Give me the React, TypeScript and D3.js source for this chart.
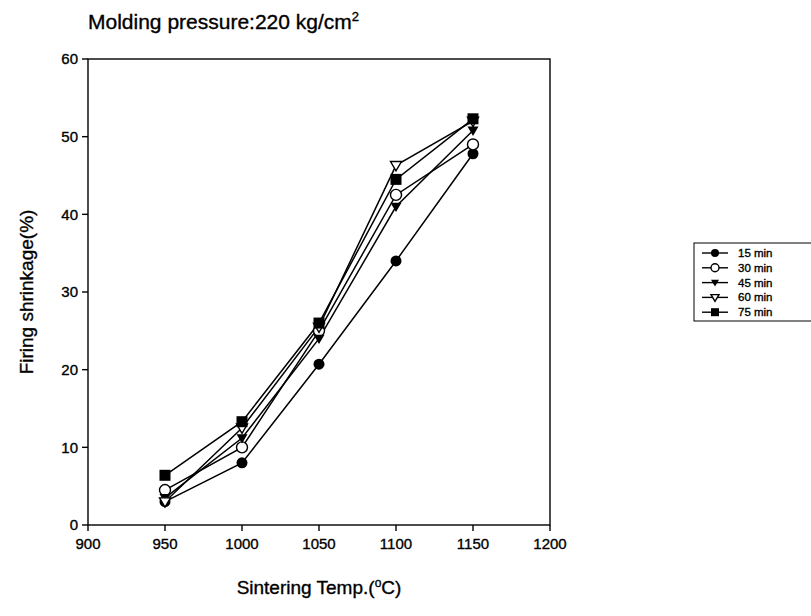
import React from "react";
import * as d3 from "d3";

const temps = [950, 1000, 1050, 1100, 1150];
const s15 = [3.0, 8.0, 20.7, 34.0, 47.8];
const s30 = [4.5, 10.0, 25.0, 42.5, 49.0];
const s45 = [3.5, 11.2, 24.0, 41.0, 50.8];
const s60 = [3.0, 12.5, 25.5, 46.3, 52.0];
const s75 = [6.4, 13.3, 26.0, 44.5, 52.3];
const seriesNames = ["15 min", "30 min", "45 min", "60 min", "75 min"];
const xTicks = [900, 950, 1000, 1050, 1100, 1150, 1200];
const yTicks = [0, 10, 20, 30, 40, 50, 60];

type Sym = "circle" | "circleOpen" | "tri" | "triOpen" | "square";
const symbols: Sym[] = ["circle", "circleOpen", "tri", "triOpen", "square"];
const allSeries = [s15, s30, s45, s60, s75];

const FONT = "'Liberation Sans', Arial, sans-serif";
const TS = { stroke: "#000", strokeWidth: 0.35 };

function Marker({ x, y, sym, r = 5.5 }: { x: number; y: number; sym: Sym; r?: number }) {
  switch (sym) {
    case "circle":
      return <circle cx={x} cy={y} r={r} fill="#000" />;
    case "circleOpen":
      return <circle cx={x} cy={y} r={r} fill="#fff" stroke="#000" strokeWidth={1.4} />;
    case "tri":
      return <path d={`M${x - r},${y - r * 0.7} L${x + r},${y - r * 0.7} L${x},${y + r * 1.0} Z`} fill="#000" />;
    case "triOpen":
      return (
        <path
          d={`M${x - r},${y - r * 0.7} L${x + r},${y - r * 0.7} L${x},${y + r * 1.0} Z`}
          fill="#fff"
          stroke="#000"
          strokeWidth={1.4}
        />
      );
    case "square":
      return <rect x={x - r} y={y - r} width={2 * r} height={2 * r} fill="#000" />;
  }
}

export default function App() {
  const W = 811;
  const H = 616;
  const x = d3.scaleLinear().domain([900, 1200]).range([88, 550]);
  const y = d3.scaleLinear().domain([0, 60]).range([525, 59]);
  const line = d3
    .line<number>()
    .x((_, i) => x(temps[i]))
    .y((d) => y(d));

  const legX = 694;
  const legY = 243;
  const legRowH = 14.8;

  return (
    <svg width={W} height={H} style={{ position: "absolute", left: 0, top: 0, background: "#fff" }}>
      <rect width={W} height={H} fill="#fff" />
      <text x={88} y={29} fontFamily={FONT} fontSize={21} fill="#000" {...TS}>
        Molding pressure:220 kg/cm
        <tspan dy={-8} fontSize={13}>2</tspan>
      </text>

      {/* frame */}
      <rect x={x(900)} y={y(60)} width={x(1200) - x(900)} height={y(0) - y(60)} fill="none" stroke="#000" strokeWidth={1.4} />

      {/* y ticks */}
      {yTicks.map((t) => (
        <g key={"y" + t}>
          <line x1={x(900) - 6} x2={x(900)} y1={y(t)} y2={y(t)} stroke="#000" strokeWidth={1.4} />
          <text x={x(900) - 10} y={y(t)} dy="0.35em" textAnchor="end" fontFamily={FONT} fontSize={15} fill="#000" {...TS}>
            {t}
          </text>
        </g>
      ))}
      {/* x ticks */}
      {xTicks.map((t) => (
        <g key={"x" + t}>
          <line x1={x(t)} x2={x(t)} y1={y(0)} y2={y(0) + 6} stroke="#000" strokeWidth={1.4} />
          <text x={x(t)} y={y(0) + 24} textAnchor="middle" fontFamily={FONT} fontSize={15} fill="#000" {...TS}>
            {t}
          </text>
        </g>
      ))}

      <text x={319} y={594} textAnchor="middle" fontFamily={FONT} fontSize={19} fill="#000" {...TS}>
        Sintering Temp.(
        <tspan dy={-7} fontSize={12}>o</tspan>
        <tspan dy={7}>C)</tspan>
      </text>
      <text
        transform={`translate(33,${y(30)}) rotate(-90)`}
        textAnchor="middle"
        fontFamily={FONT}
        fontSize={19}
        fill="#000"
        {...TS}
      >
        Firing shrinkage(%)
      </text>

      {allSeries.map((s, si) => (
        <path key={"l" + si} d={line(s) || ""} fill="none" stroke="#000" strokeWidth={1.5} />
      ))}
      {allSeries.map((s, si) =>
        s.map((v, i) => <Marker key={`m${si}-${i}`} x={x(temps[i])} y={y(v)} sym={symbols[si]} />)
      )}

      {/* legend */}
      <rect x={legX} y={legY} width={W - legX + 5} height={legRowH * 5 + 4} fill="#fff" stroke="#000" strokeWidth={1} />
      {seriesNames.map((n, i) => {
        const cy = legY + 10 + i * legRowH;
        return (
          <g key={"lg" + i}>
            <line x1={legX + 8} x2={legX + 34} y1={cy} y2={cy} stroke="#000" strokeWidth={1.4} />
            <Marker x={legX + 21} y={cy} sym={symbols[i]} r={4} />
            <text x={legX + 44} y={cy} dy="0.35em" fontFamily={FONT} fontSize={11.5} fill="#000" {...TS}>
              {n}
            </text>
          </g>
        );
      })}
    </svg>
  );
}
